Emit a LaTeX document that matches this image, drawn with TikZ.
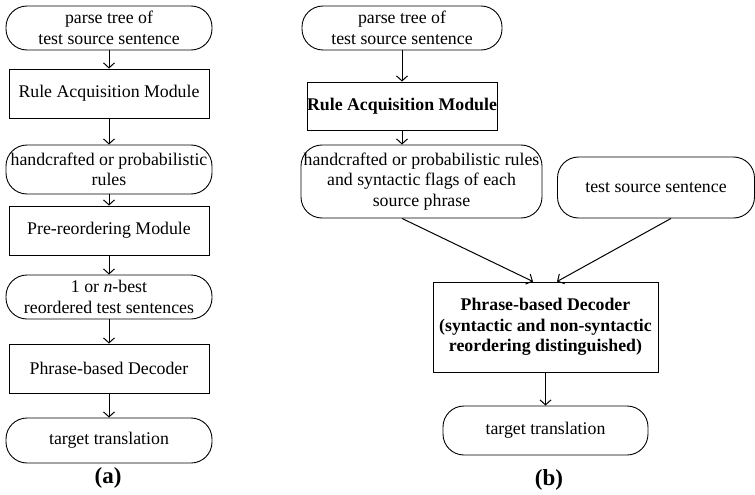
\documentclass[tikz,border=0pt]{standalone}
\usepackage{fontspec}
\setmainfont{Liberation Serif}
\usetikzlibrary{arrows.meta,positioning,calc}

\begin{document}
\begin{tikzpicture}[x=1pt,y=-1pt,
  every node/.style={inner sep=0pt,align=center,font=\fontsize{17.8}{20.5}\selectfont},
  modbox/.style={draw,line width=0.9pt},
  databox/.style={draw,line width=0.9pt,rounded corners=21pt},
  arr/.style={-{Straight Barb[length=5pt,width=11pt]},line width=1pt},
  caption/.style={font=\fontsize{23}{26}\selectfont\bfseries}]
\useasboundingbox (0,0) rectangle (755,495);
% (a) pipeline
\node[databox,minimum width=206pt,minimum height=44pt] (a1) at (109,28) {parse tree of\\test source sentence};
\node[modbox,minimum width=200pt,minimum height=49pt] (a2) at (109,93.5) {Rule Acquisition Module};
\node[databox,minimum width=206pt,minimum height=49pt] (a3) at (109,169.5) {handcrafted or probabilistic\\rules};
\node[modbox,minimum width=200pt,minimum height=49pt] (a4) at (109,230.5) {Pre-reordering Module};
\node[databox,minimum width=206pt,minimum height=44pt] (a5) at (109,297) {1 or \textit{n}-best\\reordered test sentences};
\node[modbox,minimum width=200pt,minimum height=49pt] (a6) at (109,368.5) {Phrase-based Decoder};
\node[databox,minimum width=206pt,minimum height=45pt] (a7) at (109,440.5) {target translation};
\node[caption] (capa) at (108,478) {(a)};
\draw[arr] (a1) -- (a2);
\draw[arr] (a2) -- (a3);
\draw[arr] (a3) -- (a4);
\draw[arr] (a4) -- (a5);
\draw[arr] (a5) -- (a6);
\draw[arr] (a6) -- (a7);
% (b) pipeline
\node[databox,minimum width=200pt,minimum height=44pt] (b1) at (402,28) {parse tree of\\test source sentence};
\node[modbox,minimum width=190pt,minimum height=48pt,font=\fontsize{17.8}{20.5}\selectfont\bfseries] (b2) at (402,106) {Rule Acquisition Module};
\node[databox,minimum width=241pt,minimum height=73pt] (b3) at (421.5,181.5) {handcrafted or probabilistic rules\\and syntactic flags of each\\source phrase};
\node[databox,minimum width=197pt,minimum height=61pt] (b4) at (656,187.5) {test source sentence};
\node[modbox,minimum width=225pt,minimum height=90pt,font=\fontsize{17.8}{20.5}\selectfont\bfseries] (b5) at (545.5,327) {Phrase-based Decoder\\(syntactic and non-syntactic\\reordering distinguished)};
\node[databox,minimum width=205pt,minimum height=49pt] (b6) at (545.5,430.5) {target translation};
\node[caption] (capb) at (549,480) {(b)};
\draw[arr] (b1) -- (b2);
\draw[arr] (b2.south) -- (b2.south |- b3.north);
\draw[arr] ([xshift=-19.5pt]b3.south) -- ([xshift=-12.5pt]b5.north);
\draw[arr] ([xshift=15pt]b4.south) -- ([xshift=11.5pt]b5.north);
\draw[arr] (b5) -- (b6);
\end{tikzpicture}
\end{document}
